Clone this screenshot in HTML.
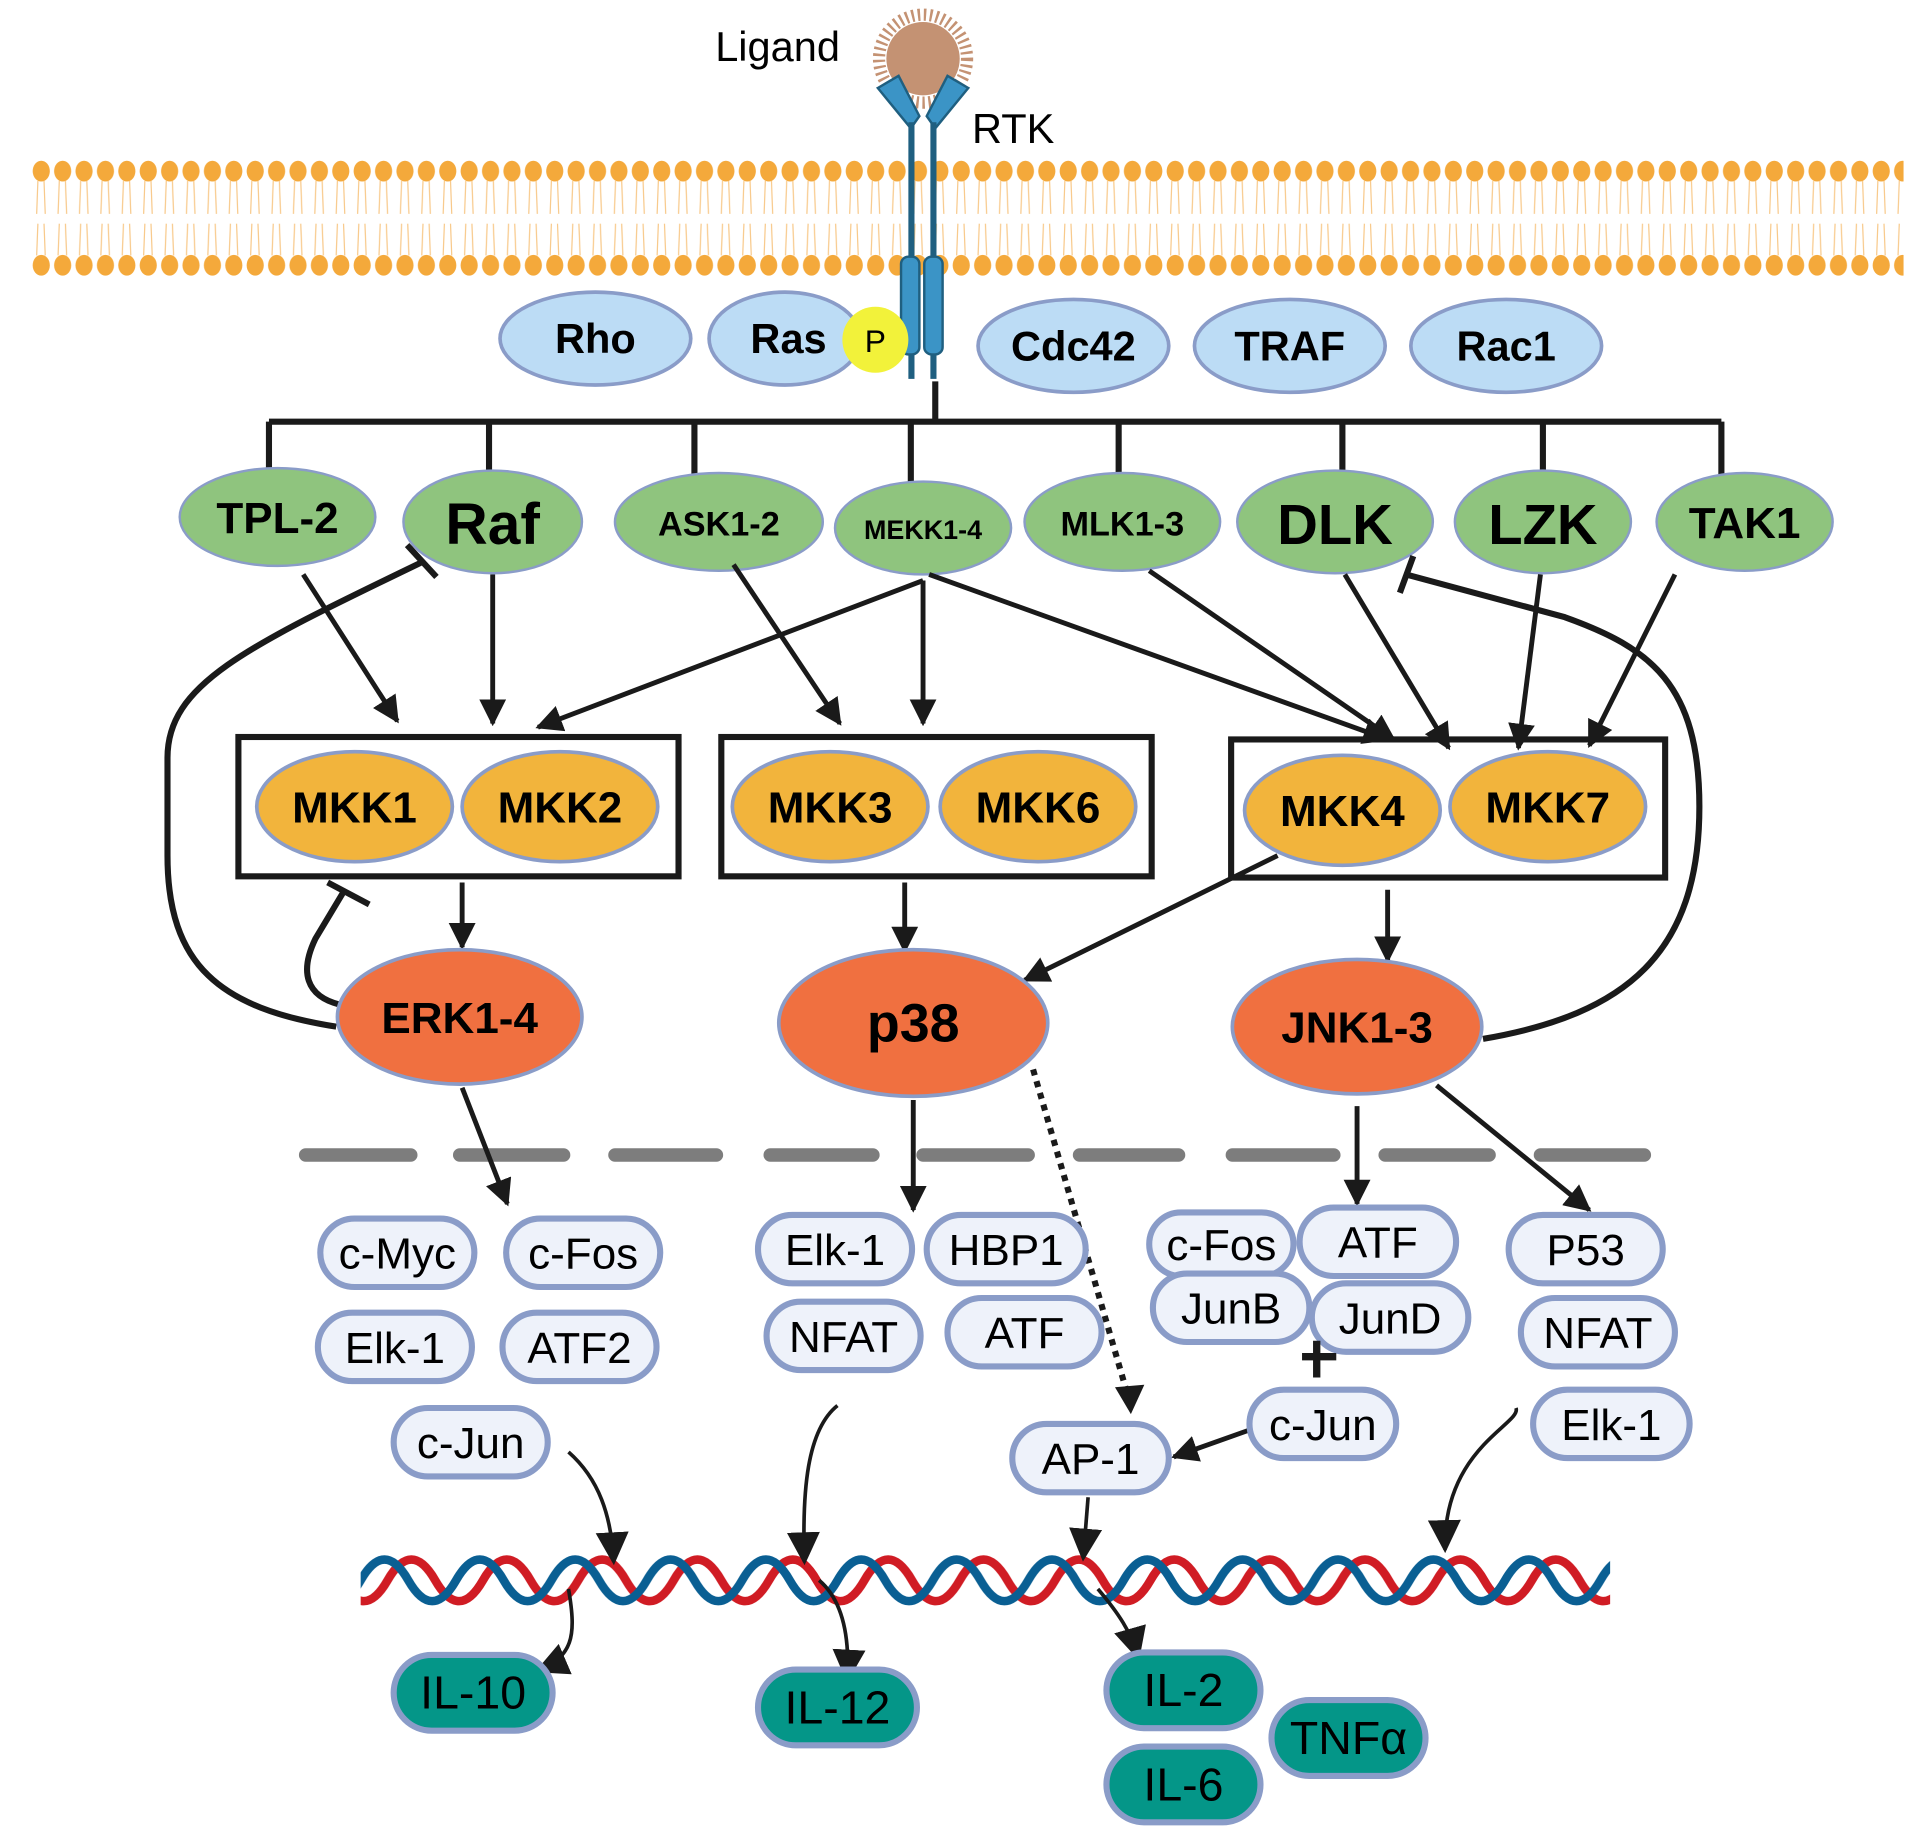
<!DOCTYPE html>
<html><head><meta charset="utf-8"><style>
html,body{margin:0;padding:0;background:#fff;}
svg{display:block;}
text{font-family:"Liberation Sans",sans-serif;}
.b{font-weight:bold;}
</style></head><body>
<svg width="1917" height="1837" viewBox="0 0 1568 1503" preserveAspectRatio="none" xmlns="http://www.w3.org/2000/svg">
<defs>
<pattern id="mem" x="25" y="0" width="17.5" height="1503" patternUnits="userSpaceOnUse">
<ellipse cx="8.75" cy="140" rx="7" ry="8.5" fill="#f4a93b"/>
<ellipse cx="8.75" cy="217" rx="7" ry="8.5" fill="#f4a93b"/>
<path d="M6 148 L5 175 M11 148 L12 175 M6 183 L5 209 M11 183 L12 209" stroke="#f8c98a" stroke-width="1"/>
</pattern>
<pattern id="dna" x="295" y="0" width="78" height="1503" patternUnits="userSpaceOnUse">
<path d="M-78 1293 q19.5 -34 39 0 t39 0 t39 0 t39 0 t39 0 t39 0" fill="none" stroke="#d01c24" stroke-width="7" transform="translate(22,0)"/>
<path d="M-78 1293 q19.5 -34 39 0 t39 0 t39 0 t39 0 t39 0 t39 0" fill="none" stroke="#0a5f93" stroke-width="7"/>
</pattern>
<marker id="ah" viewBox="0 0 10 10" refX="9" refY="5" markerWidth="5.5" markerHeight="5.5" orient="auto" markerUnits="strokeWidth"><path d="M0 0 L10 5 L0 10 z" fill="#1a1a1a"/></marker>
<marker id="ah2" viewBox="0 0 10 10" refX="9" refY="5" markerWidth="9" markerHeight="9" orient="auto" markerUnits="strokeWidth"><path d="M0 0 L10 5 L0 10 z" fill="#1a1a1a"/></marker>
</defs>

<rect x="25" y="125" width="1532" height="105" fill="url(#mem)"/>

<!-- ligand -->
<circle cx="755" cy="48" r="36" fill="none" stroke="#c49273" stroke-width="10" stroke-dasharray="2 3"/>
<circle cx="755" cy="48" r="30" fill="#c49273"/>
<text x="585" y="50" font-size="34">Ligand</text>
<text x="795" y="117" font-size="34">RTK</text>
<path d="M718 72 L735 62 L752 95 L745 105 Z" fill="#3b94c6" stroke="#1f5f80" stroke-width="2"/>
<path d="M792 72 L775 62 L758 95 L765 105 Z" fill="#3b94c6" stroke="#1f5f80" stroke-width="2"/>
<rect x="743" y="100" width="5" height="210" fill="#1f5f80"/>
<rect x="761" y="100" width="5" height="210" fill="#1f5f80"/>
<rect x="737" y="210" width="15" height="80" rx="6" fill="#3b94c6" stroke="#1f5f80" stroke-width="2"/>
<rect x="756" y="210" width="15" height="80" rx="6" fill="#3b94c6" stroke="#1f5f80" stroke-width="2"/>

<g fill="#bcdcf5" stroke="#8a9cc8" stroke-width="3">
<ellipse cx="487" cy="277" rx="78" ry="38"/>
<ellipse cx="642" cy="277" rx="62" ry="38"/>
<ellipse cx="878" cy="283" rx="78" ry="38"/>
<ellipse cx="1055" cy="283" rx="78" ry="38"/>
<ellipse cx="1232" cy="283" rx="78" ry="38"/>
</g>
<circle cx="716" cy="278" r="27" fill="#f2f23a"/>
<g class="b" font-size="34" text-anchor="middle">
<text x="487" y="289">Rho</text><text x="645" y="289">Ras</text>
<text x="878" y="295">Cdc42</text><text x="1055" y="295">TRAF</text><text x="1232" y="295">Rac1</text>
</g>
<text x="716" y="288" font-size="26" text-anchor="middle">P</text>

<g stroke="#1a1a1a" stroke-width="5" fill="none">
<path d="M765 312 L765 345 M220 345 L1408 345"/>
<path d="M220 345 V388 M400 345 V388 M568 345 V392 M745 345 V395 M915 345 V392 M1098 345 V392 M1262 345 V392 M1408 345 V392"/>
</g>

<g fill="#8fc47e" stroke="#8a9cc8" stroke-width="2">
<ellipse cx="227" cy="423" rx="80" ry="40"/>
<ellipse cx="403" cy="427" rx="73" ry="42"/>
<ellipse cx="588" cy="427" rx="85" ry="40"/>
<ellipse cx="755" cy="432" rx="72" ry="38"/>
<ellipse cx="918" cy="427" rx="80" ry="40"/>
<ellipse cx="1092" cy="427" rx="80" ry="42"/>
<ellipse cx="1262" cy="427" rx="72" ry="42"/>
<ellipse cx="1427" cy="427" rx="72" ry="40"/>
</g>
<g class="b" text-anchor="middle">
<text x="227" y="436" font-size="36">TPL-2</text>
<text x="403" y="445" font-size="48">Raf</text>
<text x="588" y="438" font-size="28">ASK1-2</text>
<text x="755" y="441" font-size="22">MEKK1-4</text>
<text x="918" y="438" font-size="28">MLK1-3</text>
<text x="1092" y="445" font-size="46">DLK</text>
<text x="1262" y="445" font-size="46">LZK</text>
<text x="1427" y="440" font-size="36">TAK1</text>
</g>

<g stroke="#1a1a1a" stroke-width="4" fill="none" marker-end="url(#ah)">
<path d="M248 470 L325 590"/>
<path d="M403 470 L403 592"/>
<path d="M755 475 L440 595"/>
<path d="M755 475 L755 592"/>
<path d="M760 470 L1135 605"/>
<path d="M600 462 L687 592"/>
<path d="M940 467 L1140 605"/>
<path d="M1100 470 L1185 612"/>
<path d="M1260 470 L1242 612"/>
<path d="M1370 470 L1300 610"/>
</g>

<g fill="none" stroke="#1a1a1a" stroke-width="5">
<rect x="195" y="603" width="360" height="114"/>
<rect x="590" y="603" width="352" height="114"/>
<rect x="1007" y="605" width="355" height="113"/>
</g>
<g fill="#f2b43c" stroke="#8a9cc8" stroke-width="3">
<ellipse cx="290" cy="660" rx="80" ry="45"/>
<ellipse cx="458" cy="660" rx="80" ry="45"/>
<ellipse cx="679" cy="660" rx="80" ry="45"/>
<ellipse cx="849" cy="660" rx="80" ry="45"/>
<ellipse cx="1098" cy="663" rx="80" ry="45"/>
<ellipse cx="1266" cy="660" rx="80" ry="45"/>
</g>
<g class="b" font-size="36" text-anchor="middle">
<text x="290" y="673">MKK1</text><text x="458" y="673">MKK2</text>
<text x="679" y="673">MKK3</text><text x="849" y="673">MKK6</text>
<text x="1098" y="676">MKK4</text><text x="1266" y="673">MKK7</text>
</g>

<g stroke="#1a1a1a" stroke-width="4" fill="none" marker-end="url(#ah)">
<path d="M378 722 L378 775"/>
<path d="M740 722 L740 778"/>
<path d="M1045 700 L838 802"/>
<path d="M1135 728 L1135 786"/>
</g>

<g stroke="#1a1a1a" stroke-width="5" fill="none">
<path d="M275 840 C180 825 137 790 137 700 L137 620 C137 560 200 530 345 460"/>
<path d="M333 446 L357 472"/>
<path d="M278 822 C250 815 245 795 258 768 L282 728"/>
<path d="M268 722 L302 740"/>
<path d="M1213 850 C1330 830 1390 780 1390 660 C1390 560 1350 530 1280 505 L1150 470"/>
<path d="M1145 485 L1156 455"/>
</g>

<g fill="#f07040" stroke="#8a9cc8" stroke-width="3">
<ellipse cx="376" cy="832" rx="100" ry="55"/>
<ellipse cx="747" cy="837" rx="110" ry="60"/>
<ellipse cx="1110" cy="840" rx="102" ry="55"/>
</g>
<g class="b" text-anchor="middle">
<text x="376" y="845" font-size="36">ERK1-4</text>
<text x="747" y="852" font-size="44">p38</text>
<text x="1110" y="853" font-size="36">JNK1-3</text>
</g>

<g stroke="#7d7d7d" stroke-width="11" stroke-linecap="round">
<path d="M250 945 H336 M376 945 H461 M503 945 H586 M630 945 H714 M755 945 H841 M883 945 H964 M1008 945 H1091 M1133 945 H1218 M1260 945 H1345"/>
</g>

<g stroke="#1a1a1a" stroke-width="4" fill="none" marker-end="url(#ah)">
<path d="M378 890 L415 985"/>
<path d="M747 900 L747 990"/>
<path d="M1110 905 L1110 985"/>
<path d="M1175 888 L1300 990"/>
<path d="M1022 1170 L960 1192"/>
</g>
<path d="M845 875 L922 1140" stroke="#1a1a1a" stroke-width="5" stroke-dasharray="5 5" fill="none"/>
<path d="M912 1135 L925 1157 L936 1133 Z" fill="#1a1a1a"/>

<g fill="#eef2fa" stroke="#8a9cc8" stroke-width="5">
<rect x="262" y="997" width="126" height="56" rx="28"/>
<rect x="414" y="997" width="126" height="56" rx="28"/>
<rect x="260" y="1074" width="126" height="56" rx="28"/>
<rect x="411" y="1074" width="126" height="56" rx="28"/>
<rect x="322" y="1152" width="126" height="56" rx="28"/>
<rect x="620" y="994" width="126" height="56" rx="28"/>
<rect x="758" y="994" width="130" height="56" rx="28"/>
<rect x="627" y="1065" width="126" height="56" rx="28"/>
<rect x="775" y="1062" width="126" height="56" rx="28"/>
<rect x="940" y="992" width="118" height="52" rx="26"/>
<rect x="943" y="1042" width="128" height="56" rx="28"/>
<rect x="1063" y="988" width="128" height="56" rx="28"/>
<rect x="1073" y="1050" width="128" height="56" rx="28"/>
<rect x="1022" y="1137" width="120" height="56" rx="28"/>
<rect x="828" y="1165" width="128" height="56" rx="28"/>
<rect x="1234" y="994" width="126" height="56" rx="28"/>
<rect x="1244" y="1062" width="126" height="56" rx="28"/>
<rect x="1254" y="1137" width="128" height="56" rx="28"/>
</g>
<g font-size="36" text-anchor="middle">
<text x="325" y="1038">c-Myc</text><text x="477" y="1038">c-Fos</text>
<text x="323" y="1115">Elk-1</text><text x="474" y="1115">ATF2</text>
<text x="385" y="1193">c-Jun</text>
<text x="683" y="1035">Elk-1</text><text x="823" y="1035">HBP1</text>
<text x="690" y="1106">NFAT</text><text x="838" y="1103">ATF</text>
<text x="999" y="1031">c-Fos</text><text x="1127" y="1029">ATF</text>
<text x="1007" y="1083">JunB</text><text x="1137" y="1091">JunD</text>
<text x="1082" y="1178">c-Jun</text><text x="892" y="1206">AP-1</text>
<text x="1297" y="1035">P53</text><text x="1307" y="1103">NFAT</text><text x="1318" y="1178">Elk-1</text>
</g>
<path d="M1065 1110 H1093 M1077 1097 V1127" stroke="#1a1a1a" stroke-width="6"/>

<rect x="295" y="1268" width="1022" height="50" fill="url(#dna)"/>

<g stroke="#1a1a1a" stroke-width="3" fill="none" marker-end="url(#ah2)">
<path d="M465 1188 C490 1210 500 1240 502 1278"/>
<path d="M685 1150 C660 1170 656 1220 658 1278"/>
<path d="M890 1225 L886 1275"/>
<path d="M1240 1152 C1245 1165 1180 1185 1182 1268"/>
<path d="M465 1300 C472 1340 468 1355 440 1367"/>
<path d="M670 1293 C690 1310 695 1340 693 1374"/>
<path d="M898 1300 C915 1320 925 1335 931 1356"/>
</g>

<g fill="#049688" stroke="#8a9cc8" stroke-width="5">
<rect x="322" y="1354" width="130" height="62" rx="31"/>
<rect x="620" y="1366" width="130" height="62" rx="31"/>
<rect x="905" y="1352" width="126" height="62" rx="31"/>
<rect x="905" y="1429" width="126" height="62" rx="31"/>
<rect x="1040" y="1391" width="126" height="62" rx="31"/>
</g>
<g font-size="38" text-anchor="middle">
<text x="387" y="1398">IL-10</text><text x="685" y="1410">IL-12</text>
<text x="968" y="1396">IL-2</text><text x="968" y="1473">IL-6</text><text x="1103" y="1435">TNFα</text>
</g>
</svg>
</body></html>
